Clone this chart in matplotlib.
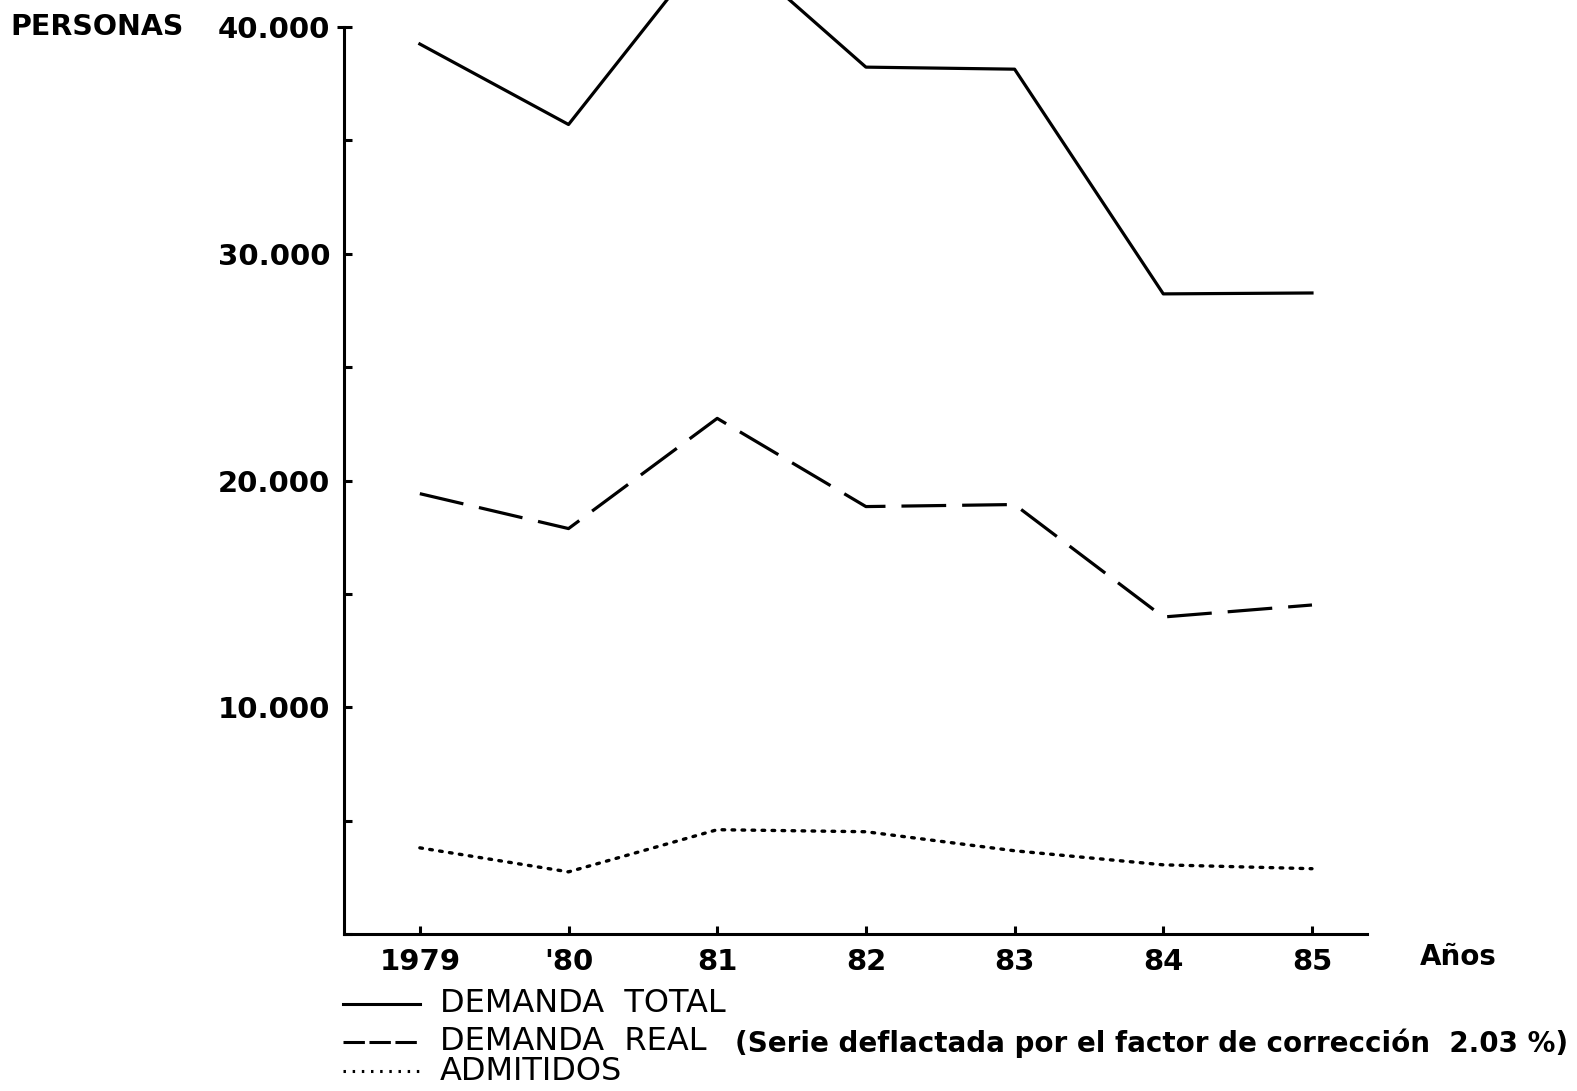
import matplotlib
matplotlib.use("Agg")
import matplotlib.pyplot as plt
from matplotlib.lines import Line2D

# Data (personas per year)
years = ["1979", "'80", "81", "82", "83", "84", "85"]
demanda_total = [39250, 35700, 44000, 38230, 38140, 28230, 28270]
demanda_real = [19420, 17880, 22740, 18850, 18940, 13980, 14510]
admitidos = [3800, 2740, 4600, 4510, 3670, 3050, 2880]
y_ticks = [0, 5000, 10000, 15000, 20000, 25000, 30000, 35000, 40000]
y_labels = ["", "", "10.000", "", "20.000", "", "30.000", "", "40.000"]

W, H = 1577, 1091
fig = plt.figure(figsize=(W / 100, H / 100), dpi=100)
ax = fig.add_axes([344 / W, 1 - 934 / H, (1367 - 344) / W, (934 - 27) / H])

x = list(range(len(years)))
ax.plot(x, demanda_total, color="black", lw=2.3, clip_on=False)
ax.plot(x, demanda_real, color="black", lw=2.3, dashes=(14, 5))
ax.plot(x, admitidos, color="black", lw=2.4, linestyle=(0, (0.8, 2.2)),
        dash_capstyle="round")

ax.set_xlim(-0.51, 6.37)
ax.set_ylim(0, 40000)

ax.spines["top"].set_visible(False)
ax.spines["right"].set_visible(False)
ax.spines["left"].set_linewidth(2.2)
ax.spines["bottom"].set_linewidth(2.2)

ax.set_xticks(x)
ax.set_xticklabels(years)
ax.set_yticks(y_ticks)
ax.set_yticklabels(y_labels)
ax.tick_params(axis="both", direction="in", length=6, width=2.2,
               labelsize=21, pad=10)
for lbl in ax.get_xticklabels() + ax.get_yticklabels():
    lbl.set_fontweight("bold")

# small outward tick closing the top of the y axis
ax.plot([-0.51, -0.56], [40000, 40000], color="black", lw=2.2,
        clip_on=False, solid_capstyle="butt")

# axis captions
fig.text(10 / W, 1 - 27 / H, "PERSONAS", fontsize=20.5, fontweight="bold",
         va="center", ha="left")
fig.text(1420 / W, 1 - 957 / H, "Años", fontsize=20, fontweight="bold",
         va="center", ha="left")

# legend drawn under the plot
rows = [
    (1004, "solid", "DEMANDA  TOTAL"),
    (1042, (0, (7, 1.5)), "DEMANDA  REAL"),
    (1071, (0, (0.8, 2.2)), "ADMITIDOS"),
]
for ypix, ls, text in rows:
    yf = 1 - ypix / H
    fig.add_artist(Line2D([343 / W, 420 / W], [yf, yf], color="black",
                          lw=2.2, linestyle=ls, transform=fig.transFigure))
    fig.text(440 / W, yf, text, fontsize=23, va="center", ha="left")

fig.text(735 / W, 1 - 1043 / H,
         "(Serie deflactada por el factor de corrección  2.03 %)",
         fontsize=20, fontweight="bold", va="center", ha="left")

fig.savefig("out.png", dpi=100)
